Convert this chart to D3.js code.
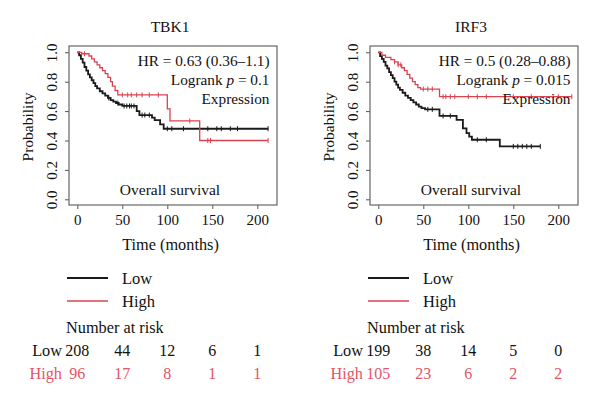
<!DOCTYPE html>
<html>
<head>
<meta charset="utf-8">
<script src="https://cdn.jsdelivr.net/npm/d3@7"></script>
<style>
  body { margin: 0; background: #fff; }
  svg { display: block; }
  text { font-family: "Liberation Serif", "DejaVu Serif", serif; fill: #111; }
</style>
</head>
<body>
<svg id="chart"></svg>
<script>
// data
const genes = ['TBK1', 'IRF3'];
const hrText = ['HR = 0.63 (0.36\u20131.1)', 'HR = 0.5 (0.28\u20130.88)'];
const pText = ['0.1', '0.015'];

const monthTicks = [0, 50, 100, 150, 200];
const probTicks = [0, 0.2, 0.4, 0.6, 0.8, 1.0];

// step curves: [month, survival], last entry = end of follow up
const tbk1Low = [[0, 1], [2, 0.98], [4, 0.955], [6, 0.93], [8, 0.9], [10, 0.875], [12, 0.85],
    [14, 0.83], [16, 0.81], [18, 0.79], [20, 0.77], [22, 0.755], [25, 0.735], [28, 0.72],
    [31, 0.705], [34, 0.69], [37, 0.675], [40, 0.665], [43, 0.655], [46, 0.645], [50, 0.635],
    [66, 0.6], [69, 0.573], [83, 0.555], [86, 0.539], [92, 0.51], [96, 0.48], [212, 0.48]];
const tbk1High = [[0, 1], [5, 0.99], [13, 0.975], [16, 0.955], [19, 0.935], [22, 0.915],
    [25, 0.895], [28, 0.875], [31, 0.855], [34, 0.83], [37, 0.8], [39, 0.77], [42, 0.74],
    [45, 0.71], [100, 0.615], [103, 0.533], [136, 0.4], [212, 0.4]];
const irf3Low = [[0, 1], [2, 0.975], [4, 0.955], [6, 0.935], [8, 0.91], [10, 0.89], [12, 0.865],
    [14, 0.845], [16, 0.825], [18, 0.8], [20, 0.78], [22, 0.76], [24, 0.745], [27, 0.725],
    [30, 0.705], [33, 0.69], [36, 0.675], [39, 0.66], [42, 0.645], [45, 0.63], [48, 0.62],
    [52, 0.612], [68, 0.567], [87, 0.54], [94, 0.483], [98, 0.45], [101, 0.426], [104, 0.405],
    [135, 0.36], [180, 0.36]];
const irf3High = [[0, 1], [4, 0.98], [8, 0.965], [14, 0.95], [18, 0.935], [22, 0.915],
    [26, 0.895], [29, 0.875], [32, 0.85], [35, 0.825], [38, 0.8], [41, 0.78], [44, 0.76],
    [47, 0.75], [68, 0.698], [215, 0.698]];

// censored times (the little + marks)
const tbk1LowCens = [35, 45, 52, 55, 58, 60, 63, 72, 75, 80, 100, 105, 118, 145, 155, 160, 170, 178, 212];
const tbk1HighCens = [8, 50, 56, 60, 66, 72, 80, 90, 125, 145, 148, 212];
const irf3LowCens = [55, 60, 72, 80, 110, 120, 150, 155, 160, 165, 170, 180];
const irf3HighCens = [18, 22, 25, 50, 55, 60, 72, 75, 80, 85, 100, 110, 120, 150, 170, 200, 215];

// number at risk at 0, 50, 100, 150, 200
const tbk1RiskLow = [208, 44, 12, 6, 1];
const tbk1RiskHigh = [96, 17, 8, 1, 1];
const irf3RiskLow = [199, 38, 14, 5, 0];
const irf3RiskHigh = [105, 23, 6, 2, 2];

const W = 600, H = 404;
const RED = '#d9434f';
const RED_TXT = '#e45566';
const BLACK = '#1a1a1a';

const svg = d3.select('#chart').attr('width', W).attr('height', H);

const panels = [
    { gene: genes[0], hr: hrText[0], p: pText[0], low: tbk1Low, high: tbk1High,
      lowC: tbk1LowCens, highC: tbk1HighCens, rLow: tbk1RiskLow, rHigh: tbk1RiskHigh, dx: 0 },
    { gene: genes[1], hr: hrText[1], p: pText[1], low: irf3Low, high: irf3High,
      lowC: irf3LowCens, highC: irf3HighCens, rLow: irf3RiskLow, rHigh: irf3RiskHigh, dx: 301 }
];

function survAt(steps, t) {
    let s = steps[0][1];
    for (const d of steps) { if (d[0] <= t) s = d[1]; }
    return s;
}

function drawPanel(p) {
    const g = svg.append('g').attr('transform', 'translate(' + p.dx + ',0)');

    const x = d3.scaleLinear().domain([0, 200]).range([77.3, 257.3]);
    const y = d3.scaleLinear().domain([0, 1]).range([199.3, 52.3]);
    const box = { l: 69, r: 277, t: 46, b: 205 };

    // title
    g.append('text').attr('x', 170).attr('y', 32).attr('text-anchor', 'middle')
        .style('font-size', '15.5px').text(p.gene);

    // axes
    const xAxis = g.append('g').attr('transform', 'translate(0,' + box.b + ')')
        .call(d3.axisBottom(x).tickValues(monthTicks).tickSize(4).tickPadding(5));
    xAxis.select('.domain').remove();
    xAxis.selectAll('line').attr('stroke', '#555');
    xAxis.selectAll('text').style('font-size', '15px').style('font-family', '"Liberation Serif", serif')
        .attr('fill', '#111');

    const yAxis = g.append('g').attr('transform', 'translate(' + box.l + ',0)')
        .call(d3.axisLeft(y).tickValues(probTicks).tickSize(4).tickFormat(d3.format('.1f')));
    yAxis.select('.domain').remove();
    yAxis.selectAll('line').attr('stroke', '#555');
    yAxis.selectAll('text')
        .attr('x', 0).attr('dy', '0.35em').attr('text-anchor', 'middle')
        .attr('transform', 'translate(-17,0) rotate(-90)')
        .style('font-size', '15px').style('font-family', '"Liberation Serif", serif')
        .attr('fill', '#111');

    g.append('rect').attr('x', box.l).attr('y', box.t)
        .attr('width', box.r - box.l).attr('height', box.b - box.t)
        .attr('fill', 'none').attr('stroke', '#666').attr('stroke-width', 1.2);

    g.append('text').attr('transform', 'translate(28,127) rotate(-90)')
        .attr('text-anchor', 'middle').attr('dy', '0.35em')
        .style('font-size', '15.5px').text('Probability');

    g.append('text').attr('x', 170.5).attr('y', 249.5).attr('text-anchor', 'middle')
        .style('font-size', '16.3px').text('Time (months)');

    // curves
    const line = d3.line().x(d => x(d[0])).y(d => y(d[1])).curve(d3.curveStepAfter);
    const series = [
        { steps: p.low, cens: p.lowC, color: BLACK, w: 1.8 },
        { steps: p.high, cens: p.highC, color: RED, w: 1.3 }
    ];
    series.forEach(s => {
        g.append('path').datum(s.steps).attr('d', line)
            .attr('fill', 'none').attr('stroke', s.color).attr('stroke-width', s.w);
        g.selectAll(null).data(s.cens).enter().append('line')
            .attr('x1', d => x(d)).attr('x2', d => x(d))
            .attr('y1', d => y(survAt(s.steps, d)) - 2.5)
            .attr('y2', d => y(survAt(s.steps, d)) + 2.5)
            .attr('stroke', s.color).attr('stroke-width', 1);
    });

    // annotations
    const ann = g.append('g').style('font-size', '15.3px').attr('text-anchor', 'end');
    ann.append('text').attr('x', 269.5).attr('y', 66).text(p.hr);
    const lr = ann.append('text').attr('x', 269.5).attr('y', 85);
    lr.append('tspan').text('Logrank ');
    lr.append('tspan').style('font-style', 'italic').text('p');
    lr.append('tspan').text(' = ' + p.p);
    ann.append('text').attr('x', 269.5).attr('y', 104).text('Expression');

    g.append('text').attr('x', 170).attr('y', 195).attr('text-anchor', 'middle')
        .style('font-size', '15.5px').text('Overall survival');

    // legend
    const leg = [{ name: 'Low', color: BLACK, y: 278 }, { name: 'High', color: RED, y: 301 }];
    leg.forEach(l => {
        g.append('line').attr('x1', 67).attr('x2', 108).attr('y1', l.y).attr('y2', l.y)
            .attr('stroke', l.color).attr('stroke-width', l.color === BLACK ? 2 : 1.6);
        g.append('text').attr('x', 122).attr('y', l.y + 5.5).style('font-size', '16.5px').text(l.name);
    });

    g.append('text').attr('x', 66).attr('y', 332.5).style('font-size', '16.3px').text('Number at risk');

    // risk table
    const rows = [{ name: 'Low', vals: p.rLow, color: '#111', y: 355.5 },
                  { name: 'High', vals: p.rHigh, color: RED_TXT, y: 378.5 }];
    rows.forEach(r => {
        g.append('text').attr('x', 62).attr('y', r.y).attr('text-anchor', 'end')
            .style('fill', r.color).style('font-size', '16.3px').text(r.name);
        g.selectAll(null).data(r.vals).enter().append('text')
            .attr('x', (d, i) => x(monthTicks[i])).attr('y', r.y)
            .attr('text-anchor', 'middle').style('fill', r.color).style('font-size', '16px')
            .text(d => d);
    });
}

panels.forEach(drawPanel);
</script>
</body>
</html>
